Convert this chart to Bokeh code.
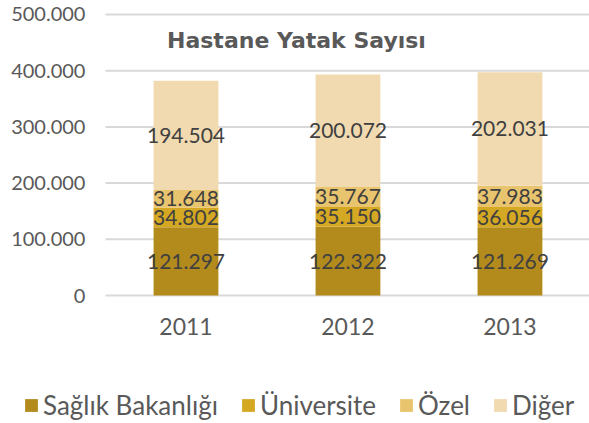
from bokeh.plotting import figure
from bokeh.models import ColumnDataSource, Range1d, LabelSet, Label, Legend
from bokeh.core.properties import value
from bokeh.embed import file_html
from bokeh.resources import INLINE

years = ["2011", "2012", "2013"]
series = ["Sağlık Bakanlığı", "Üniversite", "Özel", "Diğer"]
saglik = [121297, 122322, 121269]
universite = [34802, 35150, 36056]
ozel = [31648, 35767, 37983]
diger = [194504, 200072, 202031]
y_ticks = [0, 100000, 200000, 300000, 400000, 500000]
y_tick_labels = ["0", "100.000", "200.000", "300.000", "400.000", "500.000"]
colors = ["#B38B1D", "#D5A823", "#E9C46E", "#F1DAB0"]
title_text = "Hastane Yatak Sayısı"

# plot-area geometry (data units)
X_LEFT, X_RIGHT = -0.497, 2.491
X_START = -1.145
Y_START, Y_END = -227758, 524911
YEAR_LABEL_Y = -56000

xs = list(range(len(years)))
stack_keys = ["s0", "s1", "s2", "s3"]
values = [saglik, universite, ozel, diger]
data = dict(x=xs)
for k, v in zip(stack_keys, values):
    data[k] = v
source = ColumnDataSource(data)

p = figure(width=589, height=423, output_backend="svg", toolbar_location=None,
           x_range=Range1d(X_START, X_RIGHT), y_range=Range1d(Y_START, Y_END),
           x_axis_location=None, y_axis_location=None,
           min_border_left=0, min_border_right=0, min_border_top=0, min_border_bottom=0)
p.outline_line_color = None
p.grid.visible = False

# horizontal grid lines at the y ticks
gsrc = ColumnDataSource(dict(y=y_ticks, x0=[X_LEFT] * len(y_ticks),
                             x1=[X_RIGHT] * len(y_ticks)))
p.segment(x0="x0", x1="x1", y0="y", y1="y", source=gsrc,
          line_color="#D9D9D9", line_width=2)

renderers = p.vbar_stack(stack_keys, x="x", width=0.4, fill_color=colors,
                         line_color=None, source=source)

# y tick labels
ysrc = ColumnDataSource(dict(x=[X_LEFT] * len(y_ticks), y=y_ticks, text=y_tick_labels))
p.add_layout(LabelSet(x="x", y="y", text="text", source=ysrc, x_offset=-20,
                      text_align="right", text_baseline="middle",
                      text_font=value("Lato"), text_font_size="20px",
                      text_color="#595959"))

# x tick labels
xsrc = ColumnDataSource(dict(x=xs, y=[YEAR_LABEL_Y] * len(xs), text=years))
p.add_layout(LabelSet(x="x", y="y", text="text", source=xsrc,
                      text_align="center", text_baseline="middle",
                      text_font=value("Lato"), text_font_size="23px",
                      text_color="#595959"))

# data labels
lx, ly, lt = [], [], []
for i in xs:
    base = 0
    for v in values:
        lx.append(i)
        ly.append(base + v[i] / 2)
        lt.append(f"{v[i]:,}".replace(",", "."))
        base += v[i]
lsrc = ColumnDataSource(dict(x=lx, y=ly, text=lt))
p.add_layout(LabelSet(x="x", y="y", text="text", source=lsrc, text_align="center",
                      text_baseline="middle", text_font=value("Lato"),
                      text_font_size="21px", text_color="#404040"))

title = Label(x=0.682, y=454000, text=title_text, text_font="DejaVu Sans",
              text_font_style="bold", text_font_size="22px", text_color="#595959",
              text_align="center", text_baseline="middle")
p.add_layout(title)

legend = Legend(items=[(name, [r]) for name, r in zip(series, renderers)],
                location=(23, 2), orientation="horizontal",
                glyph_width=16, glyph_height=16, label_standoff=4, spacing=22,
                padding=0, margin=0, border_line_color=None,
                background_fill_alpha=0, label_text_font="Lato",
                label_text_font_size="26px", label_text_color="#595959")
p.add_layout(legend)

open("out.html", "w").write(file_html(p, INLINE))
